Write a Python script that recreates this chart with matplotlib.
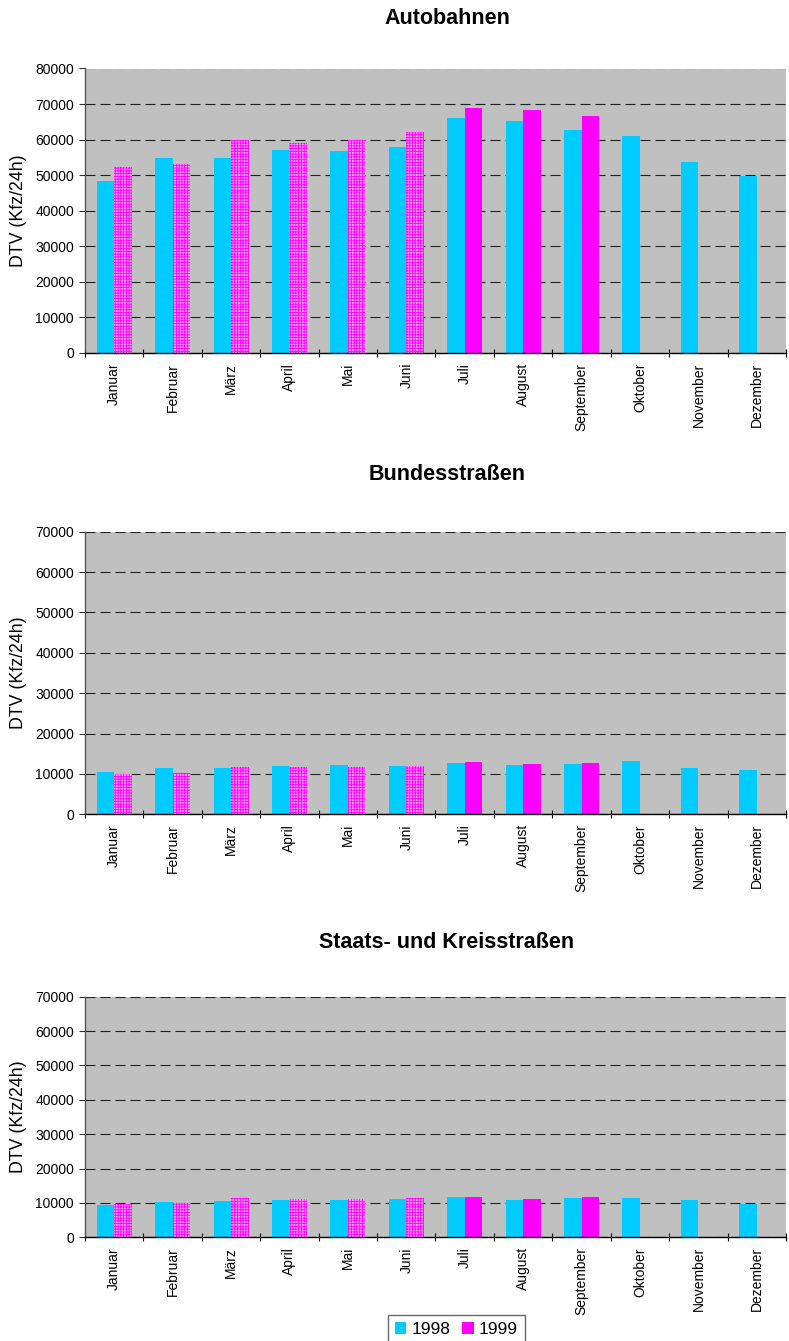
import matplotlib
matplotlib.use("Agg")
import matplotlib.pyplot as plt
from matplotlib.patches import Patch
import numpy as np

plt.rcParams['font.family'] = ['Liberation Sans', 'DejaVu Sans']
plt.rcParams['hatch.linewidth'] = 0.6

months = ["Januar", "Februar", "März", "April", "Mai", "Juni", "Juli",
          "August", "September", "Oktober", "November", "Dezember"]

titles = ["Autobahnen", "Bundesstraßen", "Staats- und Kreisstraßen"]

autobahn_1998 = [48400, 54800, 54800, 57100, 56800, 57800, 66100, 65200, 62700, 61000, 53700, 49800]
autobahn_1999 = [52300, 53100, 59900, 59000, 59900, 62100, 68900, 68300, 66600]
bund_1998 = [10500, 11500, 11500, 12000, 12200, 12000, 12700, 12200, 12500, 13200, 11500, 11000]
bund_1999 = [10100, 10200, 11700, 11700, 11700, 12000, 13000, 12500, 12700]
staat_1998 = [9400, 10200, 10500, 10800, 10800, 11100, 11700, 10800, 11400, 11400, 10800, 9700]
staat_1999 = [9800, 9900, 11400, 11100, 11100, 11400, 11700, 11100, 11700]

# number of 1999 months with provisional (dotted) data
n_provisional = 6

y_max = [80000, 70000, 70000]
series_1998 = [autobahn_1998, bund_1998, staat_1998]
series_1999 = [autobahn_1999, bund_1999, staat_1999]

W, H = 789, 1341
fig = plt.figure(figsize=(W / 100, H / 100), dpi=100)

C98 = '#00ccff'
C99 = '#ff00ff'
BG = '#c0c0c0'

axes_px = [(68.5, 353.0), (531.7, 814.3), (996.7, 1237.3)]
title_y = [18, 475, 942]
left_px, right_px = 85, 786

x = np.arange(len(months))
bw = 0.3

for i in range(3):
    top, bot = axes_px[i]
    ax = fig.add_axes([left_px / W, 1 - bot / H, (right_px - left_px) / W, (bot - top) / H])
    ax.set_facecolor(BG)
    v98 = series_1998[i]
    v99 = series_1999[i]
    ax.bar(x - bw / 2, v98, width=bw, color=C98, linewidth=0, zorder=3)
    x99 = x[:len(v99)]
    for j, (xx, vv) in enumerate(zip(x99, v99)):
        if j < n_provisional:
            ax.bar(xx + bw / 2, vv, width=bw, color='#ffa0ff', edgecolor='#ff00ff',
                   hatch='++++++', linewidth=0, zorder=3)
        else:
            ax.bar(xx + bw / 2, vv, width=bw, color=C99, linewidth=0, zorder=3)
    ax.set_xlim(-0.5, 11.5)
    ax.set_ylim(0, y_max[i])
    ticks = np.arange(0, y_max[i] + 1, 10000)
    ax.set_yticks(ticks)
    ax.set_yticklabels([str(int(v)) for v in ticks], fontsize=10)
    ax.yaxis.grid(True, color='#222222', linestyle=(0, (9, 4.5)), linewidth=0.8, zorder=1)
    ax.set_axisbelow(True)
    ax.set_xticks(x)
    ax.set_xticklabels(months, rotation=90, fontsize=10, va='top', ha='center')
    ax.tick_params(axis='x', which='major', length=0, pad=7)
    ax.set_xticks(np.arange(-0.5, 12, 1), minor=True)
    ax.tick_params(axis='x', which='minor', direction='inout', length=6, width=0.8, color='black')
    ax.tick_params(axis='y', direction='out', length=4, width=0.8, color='#333333', pad=4)
    for s in ['top', 'right']:
        ax.spines[s].set_visible(False)
    ax.spines['left'].set_color('#555555')
    ax.spines['left'].set_linewidth(1.0)
    ax.spines['bottom'].set_color('black')
    ax.spines['bottom'].set_linewidth(1.0)
    ax.spines['bottom'].set_zorder(4)
    fig.text(447 / W, 1 - title_y[i] / H, titles[i], ha='center', va='center',
             fontsize=15.5, fontweight='bold')
    fig.text(18.5 / W, 1 - (top + bot) / 2 / H, 'DTV (Kfz/24h)', rotation=90,
             ha='center', va='center', fontsize=12.8)

handles = [Patch(facecolor=C98, edgecolor='none'), Patch(facecolor=C99, edgecolor='none')]
leg = fig.legend(handles, ['1998', '1999'], loc='upper left',
                 bbox_to_anchor=(388 / W, 1 - 1315 / H), ncol=2, fontsize=12.5,
                 frameon=True, fancybox=False, edgecolor='#444444',
                 handlelength=0.65, handleheight=0.65, handletextpad=0.3,
                 columnspacing=0.7, borderpad=0.4, borderaxespad=0)
leg.get_frame().set_linewidth(1.0)

fig.savefig('out.png', dpi=100)
